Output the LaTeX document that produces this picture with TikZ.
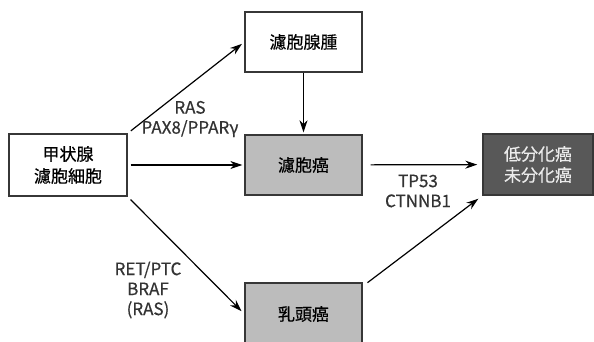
\documentclass[tikz,border=0pt]{standalone}
\usepackage{fontspec}
\setmainfont{Noto Sans CJK JP}[FakeBold=0.6, AutoFakeBold=0.6]
\usepackage{tikz}
\usetikzlibrary{arrows.meta, positioning}
\definecolor{edgegray}{RGB}{55, 55, 55}
\definecolor{cancergray}{RGB}{188, 188, 188}
\definecolor{poorgray}{RGB}{88, 88, 88}
\definecolor{lightgrayfont}{RGB}{235, 235, 235}

\begin{document}
\begin{tikzpicture}[x=1pt, y=-1pt,
    font=\fontsize{17}{21}\selectfont\bfseries,
    stagebox/.style={draw=edgegray, line width=1.4pt, align=center, inner sep=0pt},
    lbl/.style={align=center, text=black!80, font=\fontsize{17}{20}\selectfont},
    arr/.style={line width=1.2pt, -{Stealth[length=12pt, width=8pt]}}]
    \useasboundingbox (0,0) rectangle (594,342);

    % Origin cell
    \node[stagebox, fill=white, minimum width=118pt, minimum height=62pt] (cell) at (68,165) {甲状腺\\[1pt]濾胞細胞};

    % Benign and differentiated tumours
    \node[stagebox, fill=white, minimum width=117pt, minimum height=60pt] (adenoma) at (303.5,42) {濾胞腺腫};
    \node[stagebox, fill=cancergray, minimum width=117pt, minimum height=60pt] (follicular) at (303.5,165) {濾胞癌};
    \node[stagebox, fill=cancergray, minimum width=117pt, minimum height=62pt] (papillary) at (303.5,314) {乳頭癌};

    % Poorly differentiated / anaplastic
    \node[stagebox, fill=poorgray, text=lightgrayfont, minimum width=110pt, minimum height=61pt] (poorly) at (538,164.5) {低分化癌\\未分化癌};

    % Pathways
    \draw[arr, shorten <=4pt, shorten >=3pt] (cell.north east) -- (adenoma.west);
    \draw[arr, shorten <=3pt, shorten >=2pt] (cell) -- (follicular);
    \draw[arr, shorten <=4pt, shorten >=4pt] (cell.south east) -- (papillary.west);
    \draw[arr, shorten >=2pt] (adenoma) -- (follicular);
    \draw[arr, shorten <=8pt, shorten >=5pt] (follicular) -- (poorly);
    \draw[arr, shorten <=6pt, shorten >=5pt] ([yshift=-4pt]papillary.north east) -- (poorly.south west);

    % Mutation labels
    \node[lbl] (rasLbl) at (190,119) {RAS\\PAX8/PPARγ};
    \node[lbl] (retLbl) at (148,290) {RET/PTC\\BRAF\\(RAS)};
    \node[lbl] (tpLbl) at (418,191) {TP53\\CTNNB1};
\end{tikzpicture}
\end{document}
